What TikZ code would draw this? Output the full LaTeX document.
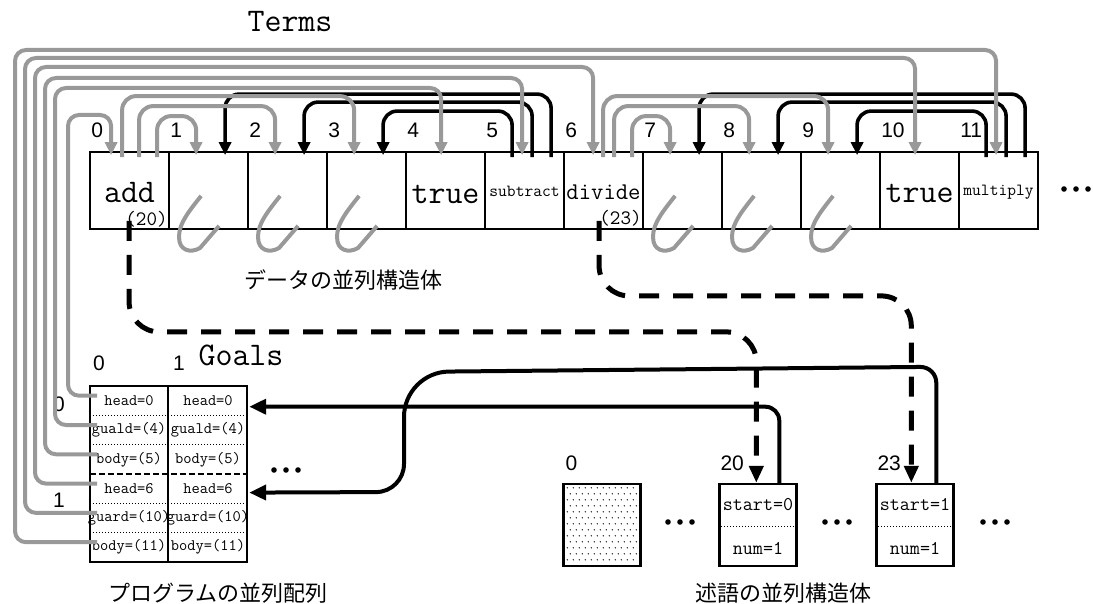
\documentclass[tikz,border=0pt]{standalone}
\usepackage{fontspec}
\usetikzlibrary{arrows.meta,calc,positioning}
\newfontfamily\helvfont{Liberation Sans}
\newfontfamily\jpfont{Noto Sans CJK JP}
\definecolor{termgray}{gray}{0.6}
\newcommand{\mono}[1]{\ttfamily\fontsize{#1}{#1}\selectfont}

\tikzset{
  cell/.style={draw,line width=1.8pt,minimum width=79pt,minimum height=77pt,inner sep=0pt},
  goalrow/.style={minimum width=78pt,minimum height=29.3pt,inner sep=0pt,font={\mono{16}}},
  predbox/.style={draw,line width=2.4pt,minimum width=77pt,minimum height=82pt,inner sep=0pt},
  idx/.style={anchor=west,inner sep=0pt,font=\helvfont\fontsize{21}{21}\selectfont},
  caption/.style={font=\jpfont\fontsize{22}{22}\selectfont},
  argarc/.style={termgray,line width=4pt,rounded corners=14pt,-{Triangle[length=13pt,width=12pt]}},
  bodyarc/.style={black,line width=3.6pt,rounded corners=14pt,-{Triangle[length=13pt,width=12pt]}},
  goalref/.style={termgray,line width=4pt,rounded corners=11pt,-{Triangle[length=13pt,width=12pt]}},
  varhook/.style={termgray,line width=4pt},
  ptrdash/.style={black,line width=5pt,dash pattern=on 20pt off 14pt,rounded corners=30pt,-{Triangle[length=17pt,width=14pt]}},
  ptrsolid/.style={black,line width=4pt,-{Triangle[length=17pt,width=15pt]}},
}

\begin{document}
\begin{tikzpicture}[x=1pt,y=-1pt]
\useasboundingbox (0,0) rectangle (1093,604);

% term array
\node[font={\mono{33}}] (terms) at (290,22) {Terms};
\foreach \i in {0,...,11} {
  \node[cell] (c\i) at ({129.5+79*\i},190.5) {};
  \node[idx] (n\i) at ($(c\i.north west)+(2,-21)$) {\i};
}
\node[font={\mono{33}}] (add) at ($(c0)+(0,2)$) {add};
\node[font={\mono{20.5}}] (add20) at ($(c0)+(17,29)$) {(20)};
\node[font={\mono{33}}] (true4) at ($(c4)+(0,4)$) {true};
\node[font={\mono{17}}] (sub) at ($(c5)+(0,1)$) {subtract};
\node[font={\mono{24}}] (div) at ($(c6)+(0,2)$) {divide};
\node[font={\mono{20.5}}] (div23) at ($(c6)+(17,28)$) {(23)};
\node[font={\mono{33}}] (true10) at ($(c10)+(0,3)$) {true};
\node[font={\mono{17}}] (mul) at ($(c11)+(0,2)$) {multiply};
\foreach \x in {1064,1076,1088} \fill (\x,189) circle (2.8);
\node[caption] (cap1) at (343,280) {データの並列構造体};

% body arguments (black)
\foreach \src/\s/\t/\h in {5/28/3/40,5/48/2/49,5/67/1/57,11/28/9/40,11/48/8/49,11/67/7/57}
  \draw[bodyarc] ($(c\src.north west)+(\s,6)$) -- ++(0,-\h-6) -| ($(c\t.north west)+(57,4)$);

% head arguments (gray)
\foreach \src/\s/\t/\h in {0/33/3/55,0/50/2/45,0/68/1/35,6/40/9/55,6/51/8/45,6/69/7/35}
  \draw[argarc] ($(c\src.north west)+(\s,6)$) -- ++(0,-\h-6) -| ($(c\t.north west)+(28,4)$);

% unbound variables
\foreach \i in {1,2,3,7,8,9} {
  \begin{scope}[shift={(c\i.south west)}]
    \draw[varhook] (33,-34) .. controls (22,-20) and (10,-6) .. (11,8)
      .. controls (11,20) and (22,24) .. (32,18) -- (51,-4);
  \end{scope}
}

% goal table
\foreach \k/\t in {0/head=0,1/guald=(4),2/body=(5),3/head=6,4/guard=(10),5/body=(11)} {
  \node[goalrow] (r\k) at (129,{400.7+29.3*\k}) {\t};
  \node[goalrow] (b\k) at (208,{400.7+29.3*\k}) {\t};
}
\draw[line width=2.5pt] (r0.north west) rectangle (b5.south east);
\draw[line width=2pt] (r0.north east) -- (r5.south east);
\foreach \k in {1,2,4,5}
  \draw[dotted,line width=1pt] ($(r0.north west)+(0,{29.3*\k})$) -- ++(158,0);
\draw[line width=2pt,dash pattern=on 6pt off 3pt] ($(r0.north west)+(0,87.9)$) -- ++(158,0);
\node[idx] (col0) at ($(r0.north west)+(3,-23)$) {0};
\node[idx] (col1) at ($(b0.north west)+(4,-23)$) {1};
\node[font={\mono{33}}] (goals) at (241,355) {Goals};
\node[idx] (row0) at ($(r0.west)+(-37,4)$) {0};
\node[idx] (row1) at ($(r3.west)+(-37,12)$) {1};
\foreach \x in {274,286,298} \fill (\x,470) circle (2.8);
\node[caption] (cap2) at (218,593) {プログラムの並列配列};

% goal entries -> terms
\foreach \r/\c/\o/\x/\t in {0/0/22/68/115,1/4/36/55/88,2/5/38/45/78,3/6/30/35/67,4/10/36/25/58,5/11/38/15/50}
  \draw[goalref] ($(r\r.center)+(-32,-5)$) -| (\x,\t) -| ($(c\c.north west)+(\o,4)$);

% predicate structures
\node[predbox] (p0) at (602,525) {};
\node[predbox] (p20) at (758,525) {};
\node[predbox] (p23) at (915,525) {};
\foreach \a in {0,...,11}
  \foreach \b in {0,...,12}
    \fill ($(p0.north west)+({5+6*\a+3*mod(\b,2)},{5+6*\b})$) circle (0.7);
\node[idx] (l0) at ($(p0.north west)+(3,-20)$) {0};
\node[idx] (l20) at ($(p20.north west)+(2,-20)$) {20};
\node[idx] (l23) at ($(p23.north west)+(2,-20)$) {23};
\foreach \p/\v in {20/0,23/1} {
  \node[font={\mono{19.5}}] (s\p) at ($(p\p.north)+(0,22)$) {start=\v};
  \draw[dotted,line width=1pt] ($(p\p.west)+(0,1)$) -- ($(p\p.east)+(0,1)$);
  \node[font={\mono{19.5}}] (m\p) at ($(p\p.south)+(0,-19)$) {num=1};
}
\foreach \x in {668,680,692,825,837,849,983,995,1007} \fill (\x,522) circle (2.8);
\node[caption] (cap3) at (783,593) {述語の並列構造体};

% term -> predicate
\draw[ptrdash] ($(c0.south west)+(40,-9)$) -- ++(0,111) -| ($(p20.north west)+(38,0)$);
\draw[ptrdash] ($(c6.south west)+(36,-9)$) -- ++(0,75) -| ($(p23.north west)+(36,0)$);

% predicate -> goals
\draw[ptrsolid,rounded corners=14pt] ($(p20.north west)+(61,0)$) |- ($(b0.east)+(2,6)$);
\draw[ptrsolid,rounded corners=16pt] ($(p23.north west)+(61,0)$) -- ++(0,-116)
  [rounded corners=45pt] -- (404,372) [rounded corners=28pt] -- (404,492) -- ($(b3.east)+(2,4)$);
\end{tikzpicture}
\end{document}
